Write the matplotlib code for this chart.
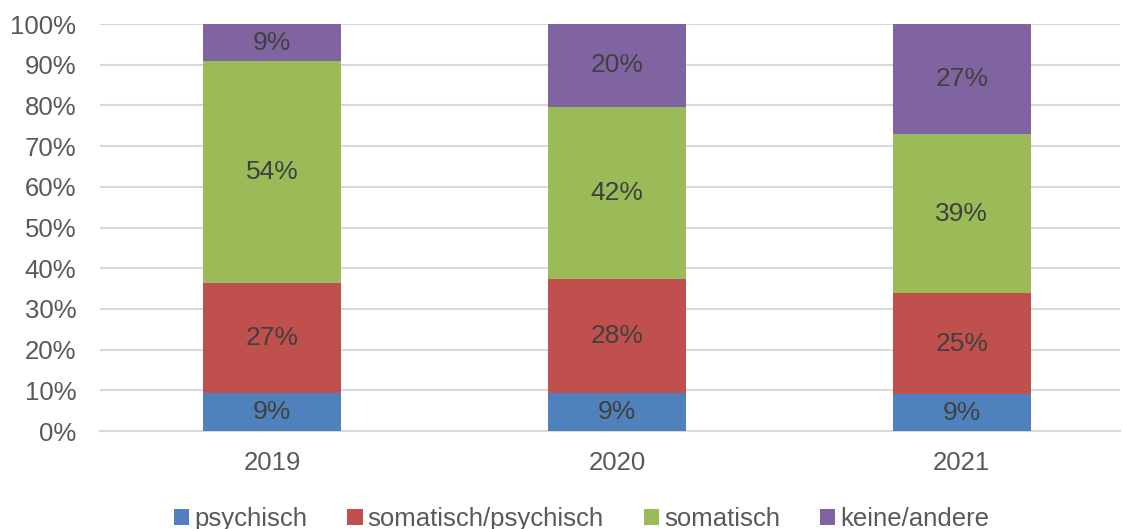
import matplotlib

matplotlib.use("Agg")

import matplotlib.pyplot as plt
from matplotlib.patches import Patch
import numpy as np

plt.rcParams["font.family"] = ["Liberation Sans", "DejaVu Sans"]

years = ["2019", "2020", "2021"]
series_names = ["psychisch", "somatisch/psychisch", "somatisch", "keine/andere"]
psychisch = [9.3, 9.3, 9.1]
somatisch_psychisch = [27.1, 28.0, 24.8]
somatisch = [54.5, 42.4, 39.1]
keine_andere = [9.1, 20.3, 27.0]

colors = ["#4F81BD", "#C0504D", "#9BBB59", "#8064A2"]


def plot_stacked(output_path="out.png"):
    fig = plt.figure(figsize=(11.23, 5.29), dpi=100)
    ax = fig.add_axes([0.089, 0.185, 0.908, 0.7696])

    x = np.arange(len(years))
    bottom = np.zeros(len(years))
    all_series = [psychisch, somatisch_psychisch, somatisch, keine_andere]
    for values, color in zip(all_series, colors):
        values = np.array(values)
        ax.bar(x, values, 0.4, bottom=bottom, color=color, zorder=3)
        for xi, b, v in zip(x, bottom, values):
            ax.text(xi, b + v / 2, f"{round(v)}%", ha="center", va="center",
                    fontsize=19, color="#404040", zorder=4)
        bottom += values

    ax.set_xlim(-0.5, 2.458)
    ax.set_ylim(0, 100)
    ax.set_yticks(np.arange(0, 101, 10))
    ax.set_yticklabels([f"{t}%" for t in range(0, 101, 10)])
    ax.set_xticks(x)
    ax.set_xticklabels(years)
    ax.tick_params(axis="both", length=0, labelsize=18.5, labelcolor="#595959")
    ax.tick_params(axis="x", pad=14.5)
    ax.tick_params(axis="y", pad=17)

    ax.grid(axis="y", color="#D9D9D9", linewidth=1.5, zorder=0)
    for side in ["top", "right", "left"]:
        ax.spines[side].set_visible(False)
    ax.spines["bottom"].set_color("#D9D9D9")
    ax.spines["bottom"].set_linewidth(1.5)

    handles = [Patch(facecolor=c, label=n) for c, n in zip(colors, series_names)]
    fig.legend(handles=handles, loc="lower center", ncol=4, frameon=False,
               bbox_to_anchor=(0.518, -0.047), fontsize=18.5, labelcolor="#595959",
               handlelength=0.6, handleheight=0.6, handletextpad=0.2,
               columnspacing=1.55)

    fig.savefig(output_path, dpi=100)
    plt.close(fig)
    return output_path


if __name__ == "__main__":
    print(plot_stacked())
